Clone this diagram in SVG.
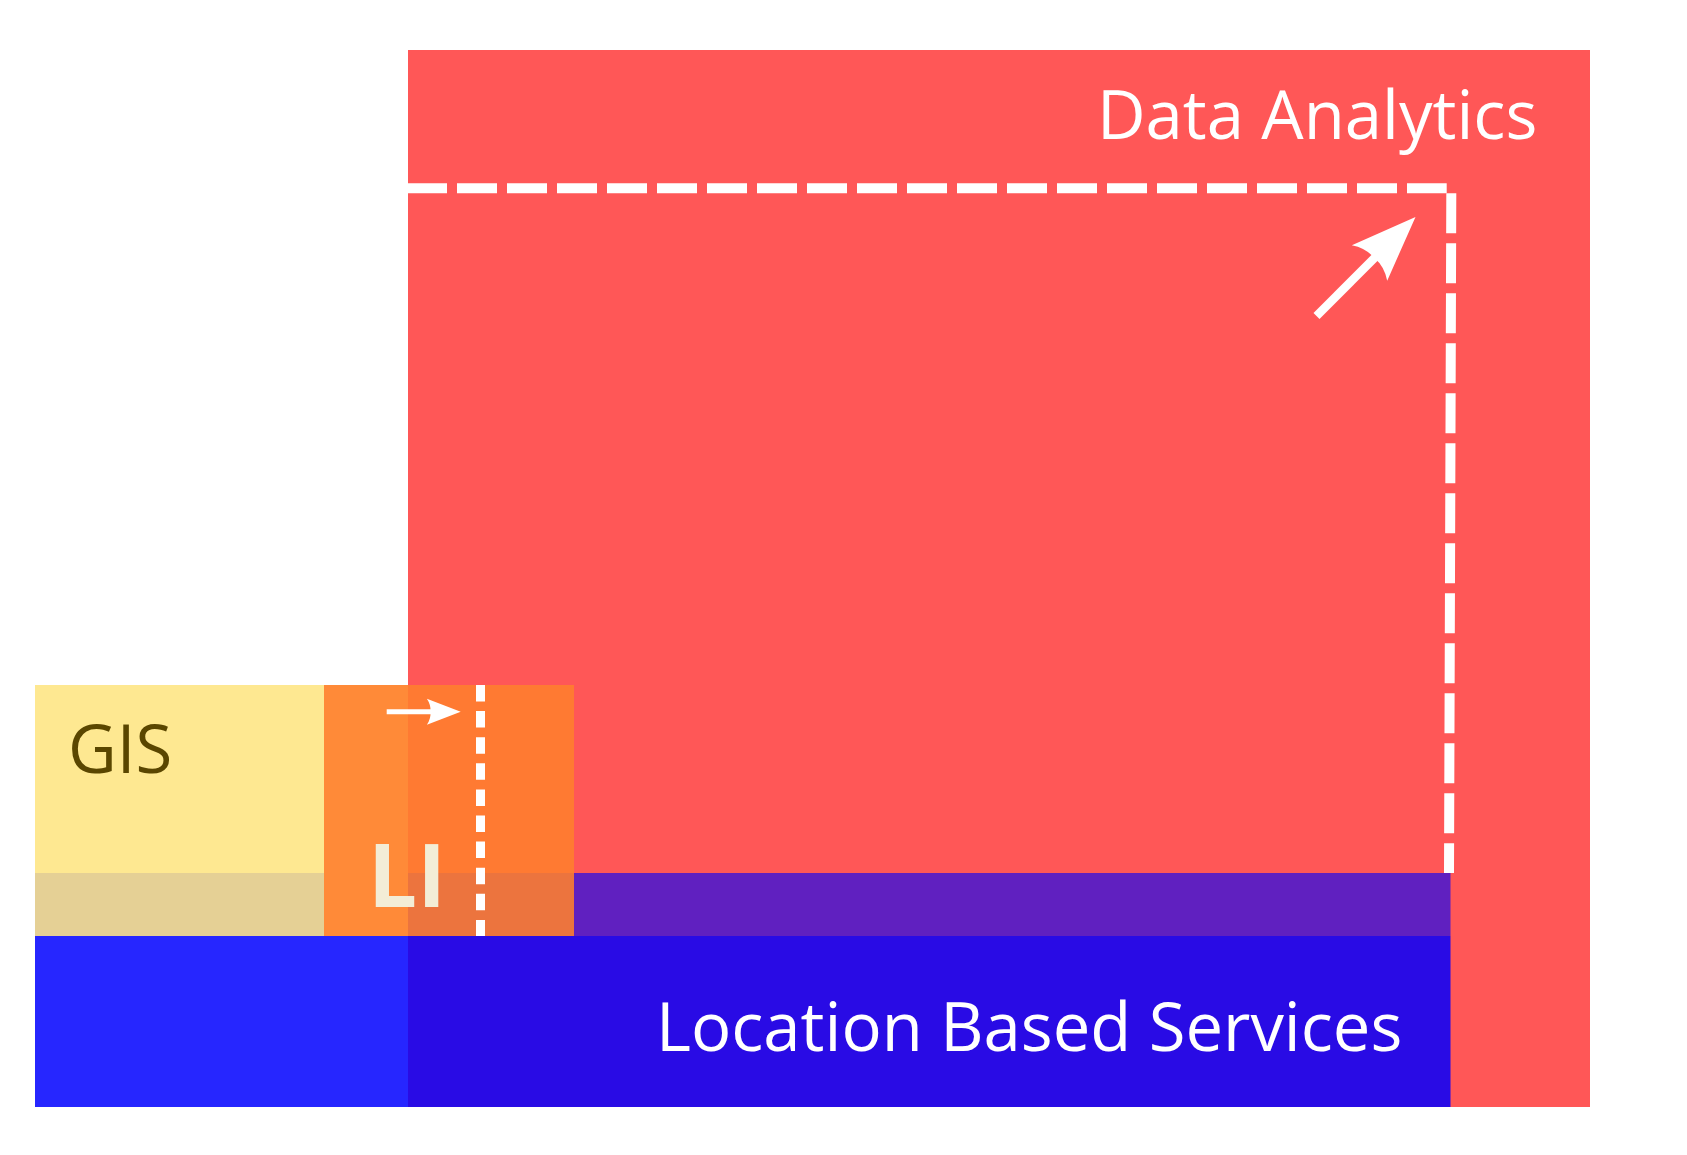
<svg xmlns="http://www.w3.org/2000/svg" xmlns:xlink="http://www.w3.org/1999/xlink" width="1687" height="1155" viewBox="0 0 1687 1155">
  <style>
    .lbl { font-family: "Open Sans", "Noto Sans", "Liberation Sans", sans-serif; font-size: 67px; }
    .lbl-bold { font-family: "Open Sans", "Noto Sans", "Liberation Sans", sans-serif; font-size: 87px; font-weight: 700; }
    .white { fill: #FFFFFF; }
    .dash { fill: none; stroke: #FFFFFF; stroke-width: 10; stroke-dasharray: 40 10; }
    .dash-small { fill: none; stroke: #FFFFFF; stroke-width: 9; stroke-dasharray: 16.5 9.6; }
    .shaft { fill: none; stroke: #FFFFFF; }
    .head { fill: #FFFFFF; }
  </style>
  <defs>
    <path id="arrowhead" d="M0,0 L-65,-25 Q-57,-13 -58,0 Q-57,13 -65,25 Z"/>
  </defs>
  <rect x="0" y="0" width="1687" height="1155" fill="#FFFFFF"/>

  <g id="data-analytics">
    <rect x="408" y="50" width="1182" height="1057" fill="#FF5757"/>
    <text class="lbl white" x="1097" y="139">Data Analytics</text>
  </g>

  <g id="location-based-services">
    <rect x="35" y="936" width="373" height="171" fill="#2626FF"/>
    <rect x="408" y="936" width="1042.5" height="171" fill="#290BE5"/>
    <rect x="574" y="873" width="876.5" height="63" fill="#6020C0"/>
    <text class="lbl white" x="656" y="1051">Location Based Services</text>
  </g>

  <g id="gis">
    <rect x="35" y="685" width="289" height="188" fill="#FEE891"/>
    <rect x="35" y="873" width="289" height="63" fill="#E5D095"/>
    <text class="lbl" x="68" y="773" fill="#5A4600">GIS</text>
  </g>

  <g id="li">
    <rect x="324" y="685" width="84" height="251" fill="#FF8A38"/>
    <rect x="408" y="685" width="166" height="188" fill="#FF7A32"/>
    <rect x="408" y="873" width="166" height="63" fill="#EC743E"/>
    <text class="lbl-bold" x="368" y="907" fill="#F3EDD6">LI</text>
  </g>

  <g id="connectors">
    <path class="dash" d="M407,188.3 H1446.7"/>
    <path class="dash" d="M1451.3,193.3 L1449,873"/>
    <path class="dash-small" d="M480.5,685 V936"/>
    <g transform="translate(1415.5,217) rotate(-45)">
      <line class="shaft" x1="-140" y1="0" x2="-57" y2="0" stroke-width="8.5"/>
      <use href="#arrowhead" xlink:href="#arrowhead" class="head"/>
    </g>
    <g transform="translate(460.7,711.7)">
      <line class="shaft" x1="-74" y1="0" x2="-29" y2="0" stroke-width="5"/>
      <use href="#arrowhead" xlink:href="#arrowhead" class="head" transform="scale(0.52)"/>
    </g>
  </g>
</svg>
